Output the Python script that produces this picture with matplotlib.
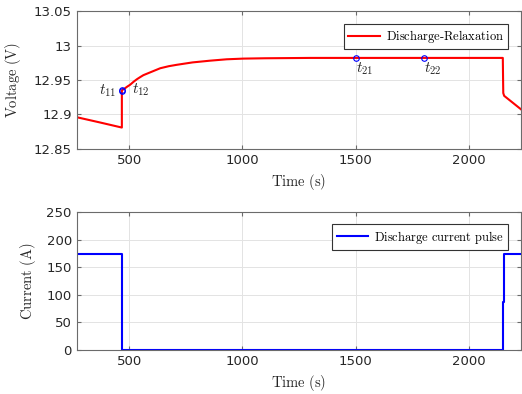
import matplotlib
matplotlib.use("Agg")
import matplotlib.pyplot as plt

plt.rcParams["mathtext.fontset"] = "cm"
plt.rcParams["font.family"] = "DejaVu Sans"

# ── Data ──────────────────────────────────────────────────────────────
time_v = [269, 370, 468, 468, 470, 480, 490, 504, 520, 534, 548, 563,
          600, 637, 675, 710, 780, 857, 930, 1004, 1100, 1300, 1500,
          1800, 2000, 2148, 2149, 2150, 2154, 2228]
voltage = [12.896, 12.8885, 12.881, 12.9345, 12.9355, 12.9375, 12.940,
           12.943, 12.9475, 12.951, 12.954, 12.957, 12.962, 12.967,
           12.970, 12.972, 12.9755, 12.978, 12.980, 12.981, 12.9815,
           12.982, 12.982, 12.982, 12.982, 12.982, 12.955, 12.931,
           12.927, 12.9075]

time_i = [269, 468, 468, 2148, 2148, 2153, 2153, 2228]
current = [174, 174, 0, 0, 87.6, 87.6, 174, 174]

mark_t = [468, 470, 1500, 1800]
mark_v = [12.9345, 12.9355, 12.982, 12.982]
mark_names = ["$t_{11}$", "$t_{12}$", "$t_{21}$", "$t_{22}$"]

xlim = (269, 2228)
xticks = [500, 1000, 1500, 2000]
v_ticks = [12.85, 12.9, 12.95, 13, 13.05]
v_ticklabels = ["12.85", "12.9", "12.95", "13", "13.05"]
i_ticks = [0, 50, 100, 150, 200, 250]

AX_COLOR = "#6b6b6b"
TXT_COLOR = "#262626"


def style_axes(ax):
    ax.set_xlim(*xlim)
    ax.set_xticks(xticks)
    ax.grid(True, color="#e3e3e3", linewidth=0.7)
    ax.set_axisbelow(True)
    ax.tick_params(direction="in", top=True, right=True, length=3,
                   colors=AX_COLOR, labelcolor=TXT_COLOR, labelsize=9.5)
    for sp in ax.spines.values():
        sp.set_color(AX_COLOR)
        sp.set_linewidth(0.8)
    ax.set_xlabel(r"$\mathrm{Time\ (s)}$", fontsize=10.5, color=TXT_COLOR,
                  labelpad=4)


def add_legend(ax):
    leg = ax.legend(loc="upper right", fontsize=9, fancybox=False,
                    framealpha=1, edgecolor="#333333", handlelength=2.5,
                    borderaxespad=1.0, borderpad=0.35, handletextpad=0.5)
    leg.get_frame().set_linewidth(0.8)


fig = plt.figure(figsize=(5.22, 3.94), dpi=100)
ax1 = fig.add_axes([0.147, 0.622, 0.851, 0.350])
ax2 = fig.add_axes([0.147, 0.112, 0.851, 0.350])

# ── Voltage ──────────────────────────────────────────────────────────
ax1.plot(time_v, voltage, color="red", linewidth=1.5,
         label=r"$\mathrm{Discharge\text{-}Relaxation}$")
ax1.plot(mark_t, mark_v, "o", color="blue", markerfacecolor="none",
         markersize=4, markeredgewidth=0.8)
ax1.text(mark_t[0] - 22, mark_v[0], mark_names[0], ha="right", va="center",
         fontsize=11, color=TXT_COLOR)
ax1.text(mark_t[1] + 42, mark_v[1], mark_names[1], ha="left", va="center",
         fontsize=11, color=TXT_COLOR)
for t, v, s in zip(mark_t[2:], mark_v[2:], mark_names[2:]):
    ax1.text(t, v - 0.004, s, ha="left", va="top", fontsize=11,
             color=TXT_COLOR)
ax1.set_ylim(12.85, 13.05)
ax1.set_yticks(v_ticks)
ax1.set_yticklabels(v_ticklabels)
style_axes(ax1)
ax1.set_ylabel(r"$\mathrm{Voltage\ (V)}$", fontsize=10.5, color=TXT_COLOR,
               labelpad=8)
add_legend(ax1)

# ── Current ──────────────────────────────────────────────────────────
ax2.plot(time_i, current, color="blue", linewidth=1.5,
         label=r"$\mathrm{Discharge\ current\ pulse}$")
ax2.set_ylim(0, 250)
ax2.set_yticks(i_ticks)
style_axes(ax2)
ax2.set_ylabel(r"$\mathrm{Current\ (A)}$", fontsize=10.5, color=TXT_COLOR,
               labelpad=6)
add_legend(ax2)

fig.savefig("out.png", dpi=100)
